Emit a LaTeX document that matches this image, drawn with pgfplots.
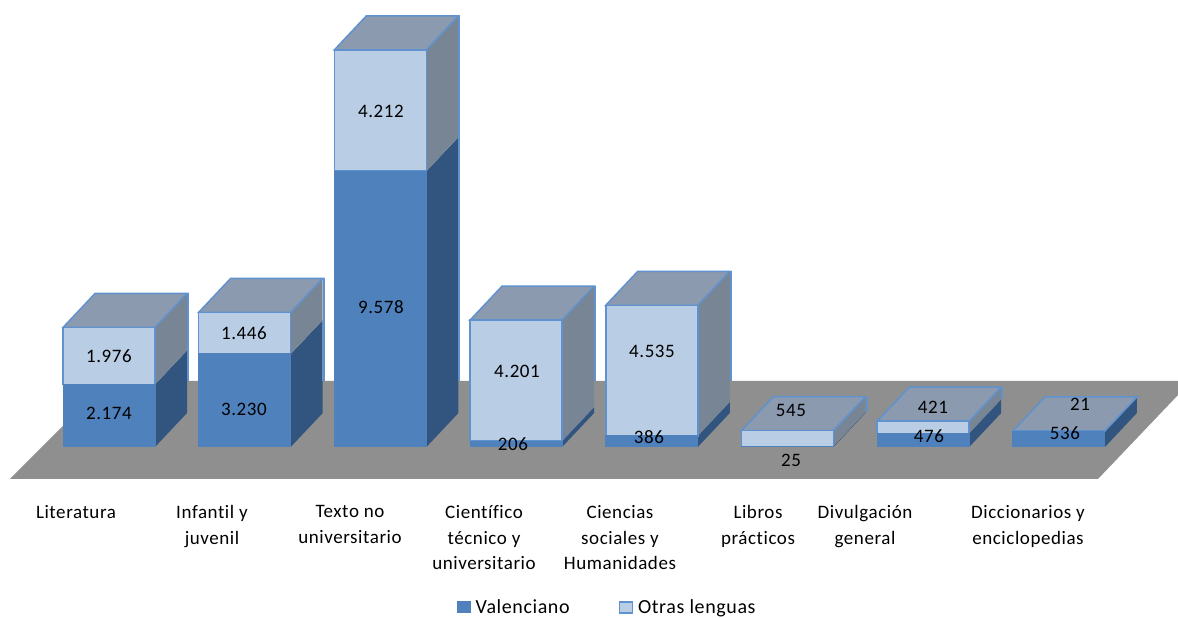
\documentclass[border=0pt]{standalone}
\usepackage{fontspec}
\setmainfont{Carlito}[LetterSpace=3, Ligatures=NoCommon]
\usepackage{pgfplots}
\pgfplotsset{compat=1.18}

\definecolor{valfront}{HTML}{4F81BD}
\definecolor{valside}{HTML}{31557F}
\definecolor{otrfront}{HTML}{B9CDE5}
\definecolor{otrside}{HTML}{788594}
\definecolor{topface}{HTML}{8B9AAE}
\definecolor{edge}{HTML}{5F92CE}
\definecolor{floorc}{HTML}{8F8F8F}

% 1 data unit = 0.0288 px, value 0 sits at pixel row 447
\pgfplotsset{
  canvas/.style={
    scale only axis, width=1178pt, height=616pt,
    at={(0,0)}, anchor=south west,
    xmin=0, xmax=1178,
  },
  datay/.style={ymin=-5868, ymax=15520.8},
}

% side and top faces of one bar: centre, lower value, upper value
\newcommand{\threeD}[3]{%
  \pgfmathsetmacro{\xl}{#1-46}\pgfmathsetmacro{\xr}{#1+46}%
  \pgfmathsetmacro{\xb}{#1+78}\pgfmathsetmacro{\xt}{#1-14}\pgfmathsetmacro{\xc}{#1+79}%
  \pgfmathsetmacro{\ya}{#2+1180}\pgfmathsetmacro{\yt}{#2+#3}%
  \pgfmathsetmacro{\yb}{\yt+1180}%
  \pgfmathsetmacro{\ys}{\yb>2292 ? 2292 : \ya}%
  \addplot[fill=valside, draw=none, mark=none] coordinates {(\xr,0) (\xb,1180) (\xb,\ya) (\xr,#2)} --cycle;
  \addplot[fill=otrside, draw=none, mark=none] coordinates {(\xr,#2) (\xb,\ya) (\xb,\yb) (\xr,\yt)} --cycle;
  \addplot[draw=edge, line width=2pt, mark=none] coordinates {(\xc,\ys) (\xc,\yb)};
  \addplot[fill=topface, draw=edge, line width=1.5pt, mark=none] coordinates {(\xl,\yt) (\xt,\yb) (\xb,\yb) (\xr,\yt)} --cycle;
}

\begin{document}
\begin{tikzpicture}
% floor, category labels and the 3D faces
\begin{axis}[
  canvas, datay,
  axis line style={draw=none}, tick style={draw=none},
  ytick=\empty,
  xtick={76,212,350,484,620,758,865,1028},
  xticklabels={Literatura,{Infantil y\\juvenil},{Texto no\\universitario},{Científico\\técnico y\\universitario},{Ciencias\\sociales y\\Humanidades},{Libros\\prácticos},{Divulgación\\general},{Diccionarios y\\enciclopedias}},
  xticklabel style={align=center, anchor=north, yshift=114pt, font=\fontsize{19}{25.5}\selectfont},
]
\addplot[fill=floorc, draw=none, mark=none] coordinates {(10,-1111) (108,2292) (1178,2292) (1178,1806) (1098,-1111)} --cycle;
\threeD{109}{2174}{1976}
\threeD{244.7}{3230}{1446}
\threeD{380.4}{9578}{4212}
\threeD{516.1}{206}{4201}
\threeD{651.8}{386}{4535}
\threeD{787.5}{25}{545}
\threeD{923.2}{476}{421}
\threeD{1058.9}{536}{21}
\end{axis}
% front faces
\begin{axis}[
  canvas, datay, hide axis,
  ybar stacked, bar width=92,
  legend image code/.code={\draw[#1] (0pt,-5.5pt) rectangle (13pt,5.5pt); \path (16pt,0pt);},
  legend columns=2,
  legend style={at={(0.3875,0.0140)}, anchor=west, draw=none, fill=none,
    font=\fontsize{20}{20}\selectfont, inner sep=0pt,
    /tikz/every even column/.append style={column sep=47pt}},
]
\addplot[fill=valfront, draw=valfront, line width=1pt] coordinates {
  (109,2174) (244.7,3230) (380.4,9578) (516.1,206) (651.8,386) (787.5,25) (923.2,476) (1058.9,536)};
\addplot[fill=otrfront, draw=edge, line width=1.5pt] coordinates {
  (109,1976) (244.7,1446) (380.4,4212) (516.1,4201) (651.8,4535) (787.5,545) (923.2,421) (1058.9,21)};
\legend{Valenciano,Otras lenguas}
\end{axis}
% value labels, placed in pixel rows as in the picture
\begin{axis}[
  canvas, hide axis, ymin=0, ymax=616, y dir=reverse,
]
\addplot[only marks, mark=none, point meta=explicit symbolic,
  nodes near coords, every node near coord/.style={anchor=center, font=\fontsize{19}{19}\selectfont, text=black}]
  coordinates {
  (109,413)[2.174] (109,356)[1.976]
  (244,409)[3.230] (244,333)[1.446]
  (381,307)[9.578] (381,111)[4.212]
  (517,371)[4.201] (513,444)[206]
  (652,351)[4.535] (649,437)[386]
  (791,410)[545] (791,460)[25]
  (933,407)[421] (929,436)[476]
  (1080,404)[21] (1065,433)[536]
};
\end{axis}
\end{tikzpicture}
\end{document}
